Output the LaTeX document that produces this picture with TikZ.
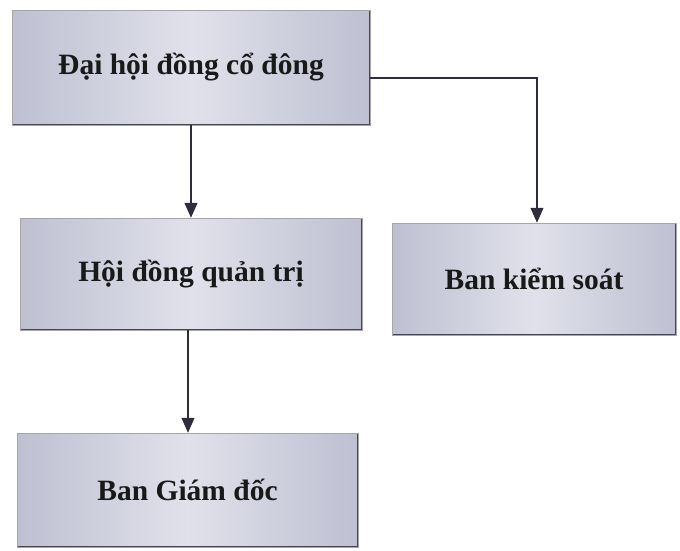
\documentclass[tikz,border=0pt]{standalone}
\usepackage{fontspec}
\setmainfont{Liberation Serif}
\usetikzlibrary{arrows.meta}
\definecolor{boxA}{RGB}{190,192,210}
\definecolor{boxB}{RGB}{224,225,234}
\definecolor{edge}{RGB}{70,70,85}
\definecolor{linec}{RGB}{45,45,60}
\tikzset{
  orgbox/.style={rectangle, draw=black!35, line width=0.5pt,
    left color=boxA, right color=boxA, middle color=boxB,
    font=\fontsize{29.5}{34}\selectfont\bfseries, text=black!90,
    inner sep=0pt,
    path picture={\draw[edge, line width=3pt]
      (path picture bounding box.south west) -- (path picture bounding box.south east)
      -- (path picture bounding box.north east);}},
  conn/.style={draw=linec, line width=1.3pt, -{Triangle[length=15pt,width=13pt]}}
}
\begin{document}
\begin{tikzpicture}[x=1pt,y=-1pt]
\useasboundingbox (0,0) rectangle (680,550);
\node[orgbox, minimum width=358pt, minimum height=115pt] (dh) at (191,67.5) {Đại hội đồng cổ đông};
\node[orgbox, minimum width=342pt, minimum height=112pt] (hd) at (191,274) {Hội đồng quản trị};
\node[orgbox, minimum width=284pt, minimum height=112pt] (bks) at (534,279) {Ban kiểm soát};
\node[orgbox, minimum width=341pt, minimum height=114pt] (bgd) at (187.5,490) {Ban Giám đốc};
\coordinate (e1) at ([yshift=-10.5pt]dh.east);
\draw[conn] (dh.south) -- (hd.north);
\draw[conn] ([xshift=-3pt]hd.south) -- ([xshift=0.5pt]bgd.north);
\draw[conn] (e1) -| ([xshift=3pt]bks.north);
\end{tikzpicture}
\end{document}
